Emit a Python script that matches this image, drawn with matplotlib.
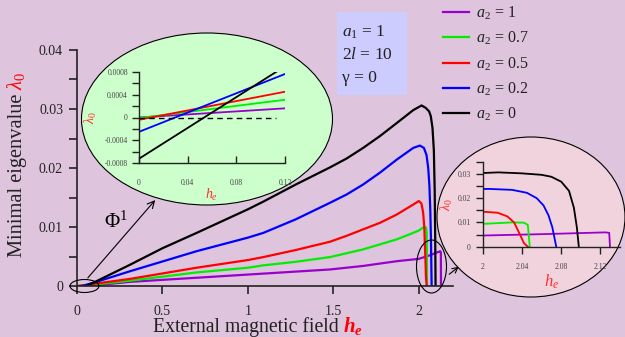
import matplotlib
matplotlib.use("Agg")
import matplotlib.pyplot as plt
from matplotlib.patches import Ellipse, FancyArrowPatch, Rectangle
from matplotlib.ticker import MultipleLocator, FuncFormatter

plt.rcParams['font.family'] = 'Liberation Serif'
plt.rcParams['mathtext.fontset'] = 'custom'
plt.rcParams['mathtext.rm'] = 'Liberation Serif'
plt.rcParams['mathtext.it'] = 'Liberation Serif:italic'
plt.rcParams['mathtext.bf'] = 'Liberation Serif:bold:italic'
plt.rcParams['axes.unicode_minus'] = False

# curves: minimal eigenvalue vs external field, one per a2
a2_labels = ['$a_2$ = 1', '$a_2$ = 0.7', '$a_2$ = 0.5', '$a_2$ = 0.2', '$a_2$ = 0']
colors = ['#9900cc', '#00ee00', '#ff0000', '#0000ff', '#000000']

h_purple = [0, 0.12, 0.31, 0.7, 1.09, 1.48, 1.674, 1.87, 2.0, 2.064, 2.125, 2.129, 2.1298]
l_purple = [0.0, 0.00016, 0.0007, 0.0014, 0.0021, 0.0028, 0.0034, 0.0042, 0.0046, 0.0052, 0.0059, 0.0057, 0.0]

h_green = [0, 0.12, 0.31, 0.7, 1.0, 1.09, 1.28, 1.48, 1.674, 1.87, 1.967, 2.0, 2.03, 2.042, 2.046, 2.048]
l_green = [-0.00001, 0.00031, 0.0009, 0.0023, 0.0031, 0.0035, 0.0041, 0.0049, 0.0062, 0.0079, 0.0090, 0.0094, 0.0100,
           0.0099, 0.0090, 0.0]

h_red = [0, 0.12, 0.31, 0.7, 1.0, 1.09, 1.28, 1.48, 1.577, 1.674, 1.772, 1.87, 1.967, 2.0, 2.015,
         2.025, 2.032, 2.038, 2.042, 2.046]
l_red = [-0.00004, 0.00045, 0.0012, 0.0031, 0.0044, 0.0049, 0.0061, 0.0075, 0.0085, 0.0096, 0.0107, 0.0121, 0.0138, 0.0144,
         0.0140, 0.0125, 0.0100, 0.0050, 0.0015, 0.0]

h_blue = [0, 0.12, 0.31, 0.7, 1.0, 1.09, 1.28, 1.48, 1.577, 1.674, 1.772, 1.87, 1.967, 2.006, 2.03,
          2.045, 2.055, 2.062, 2.067, 2.071, 2.073, 2.075]
l_blue = [-0.00025, 0.00076, 0.0025, 0.0059, 0.0082, 0.0090, 0.0113, 0.0141, 0.0155, 0.0172, 0.0192, 0.0214, 0.0234, 0.0238,
          0.0234, 0.0222, 0.0200, 0.0170, 0.0130, 0.0080, 0.0040, 0.0]

h_black = [0, 0.113, 0.31, 0.5, 0.7, 0.895, 1.0, 1.09, 1.28, 1.48, 1.577, 1.674, 1.772, 1.87, 1.967, 2.016,
           2.04, 2.06, 2.07, 2.08, 2.088, 2.093, 2.096, 2.098]
l_black = [-0.00072, 0.0008, 0.0036, 0.0064, 0.0090, 0.0116, 0.0130, 0.0143, 0.0172, 0.0201, 0.0216, 0.0234, 0.0254, 0.0276,
           0.0298, 0.0306, 0.0302, 0.0296, 0.0288, 0.0268, 0.0230, 0.0160, 0.0080, 0.0]

H = [h_purple, h_green, h_red, h_blue, h_black]
L = [l_purple, l_green, l_red, l_blue, l_black]

bg = '#dec4dc'
fig = plt.figure(figsize=(6.25, 3.37), dpi=100, facecolor=bg)

def px(x, y, w=0, h=0):
    return [x / 625, 1 - (y + h) / 337, w / 625, h / 337]

def fx(x):
    return x / 625

def fy(y):
    return 1 - y / 337

# main axes
ax = fig.add_axes(px(77, 50, 376, 236))
ax.set_zorder(-2)
ax.set_facecolor('none')
lines = []
for hh, ll, c, lab in zip(H, L, colors, a2_labels):
    lines += ax.plot(hh, ll, color=c, lw=1.6, label=lab)
ax.set_xlim(0, 2.2)
ax.set_ylim(0, 0.04)
for s in ['top', 'right']:
    ax.spines[s].set_visible(False)
for s in ['left', 'bottom']:
    ax.spines[s].set_color('#222222')
    ax.spines[s].set_linewidth(1.2)
ax.set_xticks([0, 0.5, 1, 1.5, 2])
ax.xaxis.set_major_formatter(FuncFormatter(lambda v, p: '%g' % v))
ax.yaxis.set_major_locator(MultipleLocator(0.01))
ax.yaxis.set_minor_locator(MultipleLocator(0.005))
ax.yaxis.set_major_formatter(FuncFormatter(lambda v, p: '%g' % v))
ax.tick_params(axis='both', which='both', direction='out', length=6, width=1.2,
               labelsize=10, color='#222222', labelcolor='#222222')
ax.tick_params(axis='x', pad=8)
ax.tick_params(axis='y', pad=4)

leg = fig.legend(lines, a2_labels, loc='upper left', bbox_to_anchor=(fx(437), fy(-2)),
                 frameon=False, fontsize=11.5, handlelength=1.6, handletextpad=0.45,
                 labelspacing=0.5, borderaxespad=0)
for t in leg.get_texts():
    t.set_color('#222222')

# parameter box
fig.patches.append(Rectangle((fx(337), fy(95)), fx(70), 83 / 337, transform=fig.transFigure,
                             fc='#ccccff', ec='none'))
for yy, s in zip([32, 55, 78], ['$a_1$ = 1', '2$l$ = 10', 'γ = 0']):
    fig.text(fx(342), fy(yy), s, fontsize=12.5, ha='left', va='center', color='#222222')

# axis labels with red parts
fig.canvas.draw()
r = fig.canvas.get_renderer()
t1 = fig.text(fx(153), fy(332), 'External magnetic field', fontsize=14.2,
              ha='left', va='baseline', color='#222222')
bb = t1.get_window_extent(r)
fig.text((bb.x1 + 4) / 625, fy(332), r'$\mathbf{h_e}$', fontsize=15,
         ha='left', va='baseline', color='#ff0000')
t2 = fig.text(fx(18), fy(257), 'Minimal eigenvalue', fontsize=14.7,
              rotation=90, ha='center', va='bottom', color='#222222')
bb = t2.get_window_extent(r)
fig.text(fx(16), (bb.y1 + 4) / 337, r'$\lambda_0$', fontsize=15,
         rotation=90, ha='center', va='bottom', color='#ff0000')

# phi label and arrows / small ellipses
fig.text(fx(104), fy(222), 'Φ$^1$', fontsize=15, ha='left', va='center')
fig.patches.append(Ellipse((fx(84.5), fy(286)), 29 / 625, 13 / 337,
                           transform=fig.transFigure, fill=False, ec='black', lw=0.8))
fig.patches.append(Ellipse((fx(431.5), fy(266.5)), 30 / 625, 53 / 337,
                           transform=fig.transFigure, fill=False, ec='black', lw=0.8))
fig.patches.append(FancyArrowPatch((fx(86), fy(280)), (fx(157), fy(198)),
                                   transform=fig.transFigure, arrowstyle='->,head_length=5,head_width=2.5',
                                   color='black', lw=0.8))
fig.patches.append(FancyArrowPatch((fx(447), fy(276)), (fx(461), fy(265)),
                                   transform=fig.transFigure, arrowstyle='->,head_length=4,head_width=2',
                                   color='black', lw=0.8))

# big ellipses behind insets
fig.patches.append(Ellipse((fx(207), fy(119)), 251 / 625, 172 / 337, zorder=-1,
                           transform=fig.transFigure, fc='#ccffcc', ec='black', lw=0.8))
fig.patches.append(Ellipse((fx(531), fy(217)), 188 / 625, 160 / 337, zorder=-1,
                           transform=fig.transFigure, fc='#f0d3dc', ec='black', lw=0.8))

def style_inset(a):
    a.set_facecolor('none')
    for s in ['top', 'right']:
        a.spines[s].set_visible(False)
    for s in ['left', 'bottom']:
        a.spines[s].set_color('#222222')
        a.spines[s].set_linewidth(1.0)
    a.yaxis.set_major_formatter(FuncFormatter(lambda v, p: '%g' % v))
    a.xaxis.set_major_formatter(FuncFormatter(lambda v, p: '%g' % v))
    a.tick_params(axis='both', which='both', labelsize=5.5, color='#222222',
                  labelcolor='#444444', width=1.0)

# left inset: small fields
ai = fig.add_axes(px(139, 71.7, 146, 91.6))
style_inset(ai)
for hh, ll, c in zip(H, L, colors):
    ai.plot(hh, ll, color=c, lw=1.3)
ai.hlines(0, 0, 0.113, colors='black', linestyles=(0, (4, 3)), lw=1.0)
ai.set_xlim(0, 0.12)
ai.set_ylim(-0.0008, 0.0008)
ai.set_xticks([0, 0.04, 0.08, 0.12])
ai.yaxis.set_major_locator(MultipleLocator(0.0004))
ai.yaxis.set_minor_locator(MultipleLocator(0.0002))
ai.tick_params(axis='y', which='both', direction='out', length=5, pad=3)
ai.tick_params(axis='x', direction='in', length=5, pad=11)
ai.set_ylabel(r'$\lambda_0$', color='#ff3030', fontsize=10, labelpad=4)
ai.set_xlabel(r'$h_e$', color='#ff3030', fontsize=10, labelpad=0)

# right inset: field near critical value
aj = fig.add_axes(px(482.7, 161.7, 137.3, 85))
style_inset(aj)
for hh, ll, c in zip(H, L, colors):
    aj.plot(hh, ll, color=c, lw=1.3)
aj.set_xlim(2.0, 2.14)
aj.set_ylim(0, 0.035)
aj.set_xticks([2, 2.04, 2.08, 2.12])
aj.yaxis.set_major_locator(MultipleLocator(0.01))
aj.yaxis.set_minor_locator(MultipleLocator(0.005))
aj.tick_params(axis='both', which='both', direction='out', length=5)
aj.tick_params(axis='x', pad=7)
aj.set_ylabel(r'$\lambda_0$', color='#ff3030', fontsize=10, labelpad=2)
aj.set_xlabel(r'$h_e$', color='#ff3030', fontsize=12, labelpad=1)

fig.savefig('out.png', dpi=100, facecolor=bg)
